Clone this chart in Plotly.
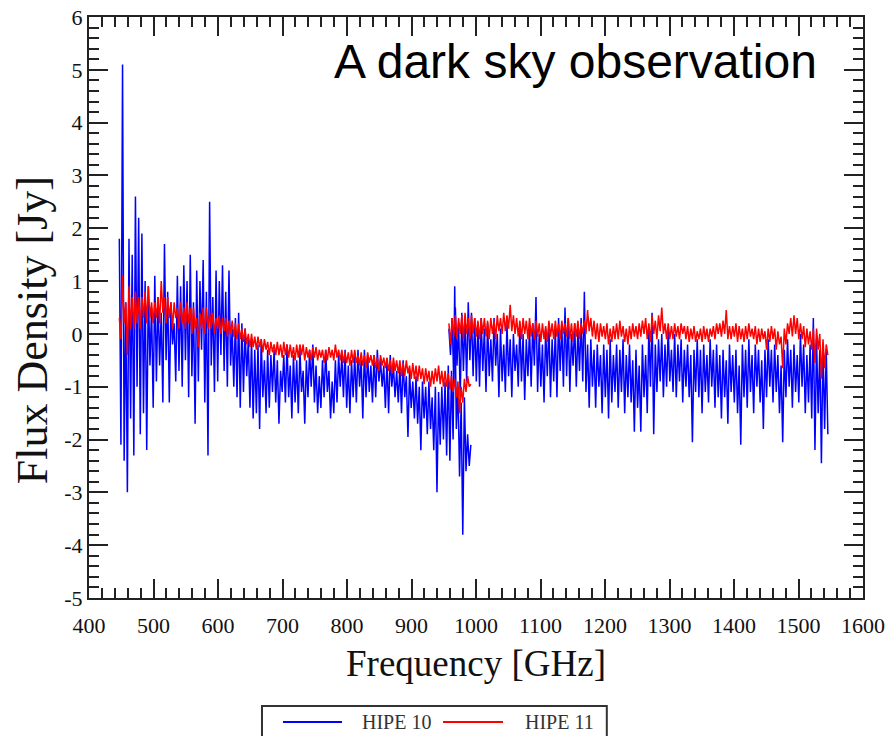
import numpy as np
import plotly.graph_objects as go

# --- Data ---
# SLW band: starts at 447 GHz, 2.5 GHz sampling of the plotted trace
slw_start, slw_step = 447.0, 2.5
hipe10_slw = [
    1.8, -2.1, 5.1, -2.4, 0.6, -3.0, 1.8, -1.6, 1.5, -2.3,
    2.6, -1.0, 2.2, -1.9, 1.9, -1.5, 1.0, -2.2, 0.9, -0.6,
    0.5, -1.4, 1.1, -0.9, 0.7, -0.6, 0.4, -1.3, 1.7, -0.5,
    0.8, -1.3, 0.6, -0.2, 0.2, -0.9, 1.1, -0.7, 0.9, -1.0,
    1.3, -0.5, 1.0, -1.2, 1.5, -0.8, 0.6, -1.7, 1.2, -0.9,
    1.0, -0.3, 1.4, -1.3, 0.8, -2.3, 2.5, -0.6, 0.7, -1.1,
    1.2, -0.9, 1.0, -0.4, 1.3, -0.7, 0.8, -1.0, 1.2, -0.6,
    0.1, -1.0, 0.3, -1.2, 0.4, -1.4, 0.2, -1.1, 0.1, -0.8,
    -0.1, -1.4, -0.1, -1.6, -0.3, -1.5, -0.2, -1.8, -0.1, -1.2,
    -0.5, -1.5, -0.3, -1.4, -0.4, -1.1, -0.3, -1.3, -0.5, -1.7,
    -0.7, -1.1, -0.4, -1.3, -0.2, -1.2, -0.6, -1.6, -0.4, -1.3,
    -0.5, -1.5, -0.3, -1.1, -0.7, -1.7, -0.5, -1.2, -0.3, -1.0,
    -0.2, -1.3, -0.6, -1.5, -0.8, -1.4, -0.5, -1.2, -0.3, -1.1,
    -0.7, -1.6, -0.9, -1.5, -0.5, -1.3, -0.4, -1.0, -0.4, -1.2,
    -0.3, -1.4, -0.6, -1.5, -0.5, -1.2, -0.4, -1.3, -0.3, -1.0,
    -0.5, -1.6, -0.3, -1.2, -0.4, -1.1, -0.6, -1.3, -0.4, -1.2,
    -0.3, -0.9, -0.5, -1.0, -0.6, -1.4, -0.5, -1.5, -0.4, -1.0,
    -0.6, -1.2, -0.7, -1.3, -0.6, -1.5, -0.5, -1.2, -0.8, -1.95,
    -0.7, -1.4, -0.9, -1.6, -0.8, -1.7, -1.0, -2.2, -0.9, -1.6,
    -1.0, -1.9, -0.9, -1.8, -1.2, -2.2, -1.0, -3.0, -1.1, -2.1,
    -1.0, -2.0, -0.9, -2.3, -0.6, -2.4, -0.7, -2.0, 0.9, -1.8,
    -1.0, -2.7, -1.3, -3.8, -1.2, -2.6, -1.9, -2.5, -2.1,
]
hipe11_slw = [
    0.3, -0.1, 1.1, 0.2, 0.6, -0.4, 0.9, 0.1, 0.7, 0.1,
    0.8, 0.2, 0.7, 0.1, 0.7, 0.3, 0.8, 0.2, 0.9, 0.3,
    0.6, 0.2, 0.6, 0.3, 0.7, 0.2, 1.0, 0.4, 0.7, 0.2,
    0.7, 0.3, 0.6, 0.1, 0.6, 0.3, 0.5, 0.1, 0.6, 0.2,
    0.5, 0.1, 0.6, 0.2, 0.5, 0.0, 0.5, 0.1, 0.3, -0.25,
    0.4, 0.1, 0.5, 0.0, 0.5, 0.1, 0.4, 0.1, 0.4, 0.0,
    0.3, 0.1, 0.35, 0.0, 0.3, 0.05, 0.3, -0.05, 0.25, 0.0,
    0.25, -0.05, 0.2, -0.1, 0.2, -0.1, 0.1, -0.15, 0.1, -0.2,
    0.0, -0.25, 0.0, -0.25, -0.05, -0.3, -0.05, -0.25, -0.1, -0.35,
    -0.1, -0.3, -0.15, -0.4, -0.15, -0.35, -0.2, -0.4, -0.15, -0.4,
    -0.2, -0.45, -0.15, -0.4, -0.2, -0.45, -0.2, -0.45, -0.25, -0.5,
    -0.2, -0.45, -0.2, -0.4, -0.2, -0.5, -0.25, -0.45, -0.3, -0.5,
    -0.25, -0.45, -0.25, -0.5, -0.3, -0.45, -0.3, -0.55, -0.3, -0.5,
    -0.25, -0.45, -0.3, -0.5, -0.2, -0.45, -0.3, -0.5, -0.3, -0.55,
    -0.35, -0.55, -0.35, -0.6, -0.3, -0.55, -0.3, -0.55, -0.4, -0.6,
    -0.35, -0.6, -0.4, -0.65, -0.35, -0.55, -0.4, -0.6, -0.4, -0.65,
    -0.45, -0.7, -0.4, -0.6, -0.45, -0.65, -0.45, -0.7, -0.5, -0.75,
    -0.45, -0.7, -0.5, -0.75, -0.5, -0.8, -0.55, -0.8, -0.5, -0.75,
    -0.6, -0.85, -0.55, -0.85, -0.6, -0.9, -0.6, -0.85, -0.65, -0.95,
    -0.65, -0.9, -0.7, -1.0, -0.7, -0.95, -0.65, -0.9, -0.6, -0.95,
    -0.7, -1.0, -0.7, -1.0, -0.75, -1.05, -0.8, -1.1, -0.85, -1.2,
    -0.9, -1.5, -1.0, -1.3, -0.85, -1.1, -0.8, -1.0, -0.95,
]
# SSW band: starts at 958 GHz, 2.5 GHz sampling
ssw_start, ssw_step = 958.0, 2.5
hipe10_ssw = [
    0.1, -0.4, 0.3, -0.9, 0.5, -0.6, 0.2, -1.2, 0.4, -0.7,
    0.3, -0.9, 0.6, -0.5, 0.4, -0.8, 0.3, -0.9, 0.2, -1.0,
    0.3, -0.7, 0.1, -1.1, 0.2, -0.8, -0.1, -0.9, 0.3, -0.6,
    0.0, -1.2, 0.1, -0.9, -0.2, -1.1, 0.2, -0.8, -0.1, -1.2,
    0.0, -0.7, -0.2, -1.0, 0.2, -0.9, 0.0, -1.25, -0.1, -0.8,
    0.1, -1.0, 0.2, -0.6, 0.7, -1.1, 0.0, -1.0, -0.2, -1.3,
    0.1, -0.8, 0.2, -1.2, -0.1, -0.9, 0.1, -1.2, 0.3, -0.7,
    0.2, -1.0, 0.5, -0.8, 0.3, -1.1, 0.0, -0.6, 0.2, -1.0,
    0.1, -0.7, 0.3, -0.9, 0.8, -1.1, -0.2, -1.4, -0.1, -1.0,
    -0.3, -1.4, -0.2, -1.0, -0.4, -1.5, -0.2, -1.2, -0.3, -1.6,
    -0.1, -1.3, -0.4, -1.1, -0.2, -1.4, -0.3, -1.1, -0.1, -1.5,
    -0.4, -1.2, -0.2, -1.3, -0.5, -1.85, -0.3, -1.4, -0.6, -1.85,
    -0.2, -1.2, -0.4, -1.5, 0.1, -1.0, 0.4, -1.9, -0.2, -1.1,
    -0.1, -0.9, 0.0, -1.2, -0.2, -1.0, 0.1, -0.9, -0.3, -1.1,
    0.0, -1.2, -0.2, -0.9, -0.1, -1.3, -0.3, -1.0, -0.2, -1.2,
    -0.4, -2.05, -0.3, -1.1, -0.1, -1.2, -0.3, -1.5, -0.2, -1.1,
    -0.4, -1.3, -0.1, -1.0, -0.3, -1.4, -0.2, -1.2, -0.4, -1.6,
    -0.3, -1.2, -0.5, -1.7, -0.2, -1.1, -0.4, -1.3, -0.3, -1.5,
    -0.6, -2.1, -0.2, -1.2, -0.3, -1.4, -0.1, -1.1, -0.4, -1.5,
    -0.2, -1.0, -0.3, -1.3, -0.5, -1.8, -0.3, -1.2, -0.1, -1.0,
    -0.3, -1.3, -0.2, -1.1, -0.4, -1.5, -0.6, -2.05, -0.3, -1.2,
    -0.1, -1.0, -0.3, -1.4, -0.2, -1.1, -0.4, -1.3, 0.0, -1.0,
    -0.2, -1.5, -0.4, -1.3, -0.2, -1.6, 0.3, -2.2, -0.1, -1.5,
    -0.3, -2.45, -0.2, -1.8, -0.3, -1.9,
]
hipe11_ssw = [
    0.2, -0.2, 0.3, -0.05, 0.35, -0.1, 0.3, 0.0, 0.35, -0.1,
    0.4, 0.0, 0.3, -0.1, 0.35, 0.0, 0.3, -0.05, 0.25, -0.1,
    0.3, 0.0, 0.3, -0.05, 0.25, -0.1, 0.3, 0.0, 0.25, -0.1,
    0.35, 0.05, 0.3, 0.0, 0.4, 0.05, 0.35, 0.1, 0.55, 0.05,
    0.35, 0.0, 0.3, -0.05, 0.25, -0.1, 0.3, 0.0, 0.25, -0.1,
    0.3, -0.05, 0.2, -0.1, 0.25, -0.05, 0.2, -0.15, 0.2, -0.1,
    0.15, -0.15, 0.25, -0.05, 0.2, -0.1, 0.25, -0.05, 0.2, -0.1,
    0.25, 0.0, 0.2, -0.05, 0.3, -0.1, 0.2, -0.15, 0.2, -0.05,
    0.25, -0.1, 0.2, 0.0, 0.25, 0.0, 0.45, 0.05, 0.3, -0.05,
    0.25, -0.1, 0.2, -0.15, 0.2, -0.05, 0.15, -0.1, 0.2, -0.2,
    0.1, -0.15, 0.15, -0.1, 0.2, -0.1, 0.25, -0.05, 0.15, -0.15,
    0.1, -0.2, 0.15, -0.1, 0.2, -0.05, 0.15, -0.1, 0.2, -0.05,
    0.25, 0.0, 0.3, -0.1, 0.2, -0.15, 0.35, 0.0, 0.25, -0.1,
    0.35, 0.05, 0.5, 0.0, 0.2, -0.1, 0.2, -0.1, 0.15, -0.1,
    0.2, -0.05, 0.15, -0.1, 0.2, 0.0, 0.15, -0.1, 0.15, -0.15,
    0.1, -0.1, 0.15, -0.15, 0.05, -0.1, 0.1, -0.15, 0.15, -0.1,
    0.1, -0.15, 0.1, -0.05, 0.15, -0.1, 0.2, 0.0, 0.2, -0.05,
    0.25, 0.0, 0.45, -0.1, 0.15, -0.1, 0.15, -0.05, 0.2, -0.15,
    0.15, -0.1, 0.1, -0.15, 0.15, -0.1, 0.2, -0.05, 0.1, -0.1,
    0.15, -0.2, 0.1, -0.15, 0.1, -0.1, 0.05, -0.3, 0.1, -0.15,
    0.15, -0.1, 0.1, -0.3, 0.05, -0.2, -0.05, -0.65, 0.1, -0.2,
    0.2, 0.0, 0.3, -0.05, 0.35, 0.0, 0.3, -0.1, 0.2, -0.1,
    0.15, -0.25, 0.1, -0.2, 0.05, -0.3, 0.1, -0.55, 0.1, -0.3,
    0.0, -0.85, -0.1, -0.65, -0.2, -0.4,
]
series_names = ["HIPE 10", "HIPE 11"]
series_colors = ["#0000ff", "#ff0000"]
x_ticks = list(range(400, 1601, 100))
y_ticks = list(range(-5, 7, 1))
y_ticklabels = [str(v) for v in y_ticks]  # ASCII hyphen minus, as in the reference


def band_freq(start, step, values):
    return start + step * np.arange(len(values))


def join(f1, v1, f2, v2):
    x = list(f1) + [None] + list(f2)
    y = list(v1) + [None] + list(v2)
    return x, y


fig = go.Figure()
bands = [(hipe10_slw, hipe10_ssw), (hipe11_slw, hipe11_ssw)]
for name, color, (a, b) in zip(series_names, series_colors, bands):
    x, y = join(band_freq(slw_start, slw_step, a), a, band_freq(ssw_start, ssw_step, b), b)
    fig.add_trace(go.Scatter(x=x, y=y, mode="lines", name=name,
                             line=dict(color=color, width=1.5),
                             connectgaps=False, showlegend=False))

serif = "Liberation Serif, Times New Roman, serif"
axis_common = dict(
    showline=True, linecolor="#222", linewidth=2, mirror="ticks",
    ticks="inside", ticklen=19, tickwidth=1.5, tickcolor="#222",
    showgrid=False, zeroline=False, automargin=False,
    ticklabeloverflow="allow",
    tickfont=dict(family=serif, size=22, color="#111"),
)
fig.update_xaxes(range=[400, 1600], tickvals=x_ticks, ticktext=[str(v) for v in x_ticks],
                 minor=dict(dtick=20, ticks="inside", ticklen=10, tickwidth=1.5, tickcolor="#222"),
                 title=dict(text="Frequency [GHz]", font=dict(family=serif, size=37, color="#111"), standoff=13),
                 ticklabelstandoff=7, **axis_common)
fig.update_yaxes(range=[-5, 6], tickvals=y_ticks, ticktext=y_ticklabels,
                 minor=dict(dtick=0.2, ticks="inside", ticklen=10, tickwidth=1.5, tickcolor="#222"),
                 ticklabelstandoff=0, **axis_common)

fig.add_annotation(text="Flux Density [Jy]", xref="paper", yref="paper", x=-0.0736, y=0.461,
                   xanchor="center", yanchor="middle", textangle=-90, showarrow=False,
                   font=dict(family=serif, size=44, color="#111"))
fig.add_annotation(text="A dark sky observation", xref="paper", yref="paper",
                   x=0.314, y=0.924, xanchor="left", yanchor="middle", showarrow=False,
                   font=dict(family="Liberation Sans, Arial, sans-serif", size=48, color="#000"))

# Legend box drawn below the plot (paper coordinates)
legend_font = dict(family=serif, size=20, color="#333")
fig.add_shape(type="rect", xref="paper", yref="paper", x0=0.2235, x1=0.669, y0=-0.1859, y1=-0.26,
              line=dict(color="#333", width=2), fillcolor="white", layer="above")
legend_items = [(0.2506, 0.3269, 0.3501), (0.4574, 0.5349, 0.5607)]
for name, color, (lx0, lx1, tx) in zip(series_names, series_colors, legend_items):
    fig.add_shape(type="line", xref="paper", yref="paper", x0=lx0, x1=lx1, y0=-0.2134, y1=-0.2134,
                  line=dict(color=color, width=2))
    fig.add_annotation(text=name, xref="paper", yref="paper", x=tx, y=-0.2134,
                       xanchor="left", yanchor="middle", showarrow=False, font=legend_font)

fig.update_layout(
    width=888, height=736,
    margin=dict(l=89, r=25, t=17, b=138),
    paper_bgcolor="white", plot_bgcolor="white",
    showlegend=False,
)
# remove the page's default 8 px body margin so the figure fills the window exactly
fig.write_html("out.html", config={"displayModeBar": False},
               post_script="document.body.style.margin='0';document.body.style.overflow='hidden';")
